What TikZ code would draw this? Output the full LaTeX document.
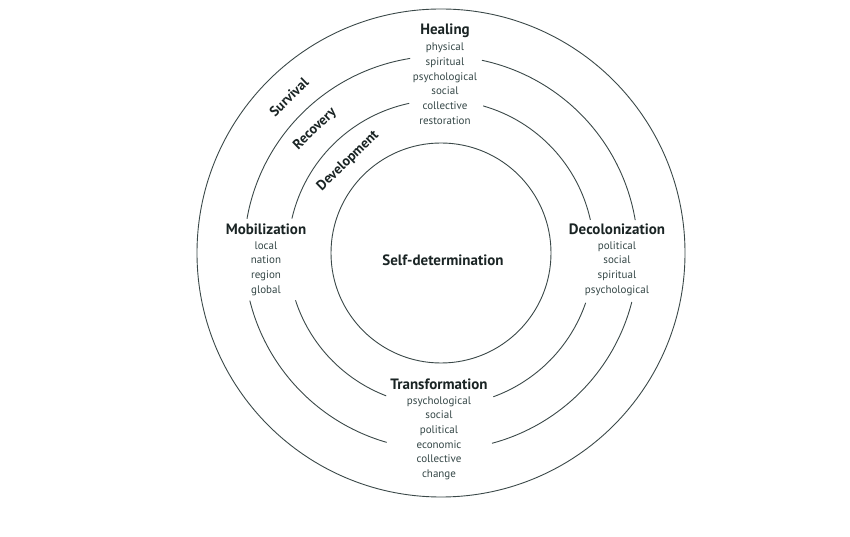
\documentclass[tikz,border=0pt]{standalone}
\usepackage{fontspec}
\setmainfont{PT Sans}
\usetikzlibrary{positioning}

\definecolor{ringgray}{HTML}{3A4848}
\definecolor{headink}{HTML}{1A2424}
\definecolor{itemink}{HTML}{344646}

\tikzset{
	head/.style = {font = \bfseries\fontsize{15}{17}\selectfont, text = headink, inner sep = 0pt},
	items/.style = {font = \fontsize{11}{14.7}\selectfont, text = itemink, align = center, inner sep = 0pt},
	stage/.style = {font = \bfseries\fontsize{14}{16}\selectfont, text = headink, inner sep = 0pt, rotate = 44},
}

\begin{document}
\begin{tikzpicture}[x = 1pt, y = 1pt, ringgray, line width = 0.9pt]
		\useasboundingbox (-441, -284) rectangle (409, 253) ;
		\draw (0, 0) circle [radius = 110] ;
		\draw (0, 0) circle [radius = 244] ;
		% recovery ring
		\draw (9.6:197) arc [start angle = 9.6, end angle = 78, radius = 197] ;
		\draw (99:197) arc [start angle = 99, end angle = 170, radius = 197] ;
		\draw (194:197) arc [start angle = 194, end angle = 254, radius = 197] ;
		\draw (285:197) arc [start angle = 285, end angle = 345.6, radius = 197] ;
		% development ring
		\draw (12.5:153) arc [start angle = 12.5, end angle = 74, radius = 153] ;
		\draw (102:153) arc [start angle = 102, end angle = 167, radius = 153] ;
		\draw (198:153) arc [start angle = 198, end angle = 249, radius = 153] ;
		\draw (290:153) arc [start angle = 290, end angle = 341, radius = 153] ;

		\node [head] (self) at (2, -7) {Self-determination} ;

		\node [head] (healing) at (4, 222) {Healing} ;
		\node [items, below = 4pt of healing] (healinglist)
			{physical\\spiritual\\psychological\\social\\collective\\restoration} ;

		\node [head] (mobil) at (-175, 24) {Mobilization} ;
		\node [items, below = 6pt of mobil] (mobillist)
			{local\\nation\\region\\global} ;

		\node [head] (decol) at (176, 24) {Decolonization} ;
		\node [items, below = 6pt of decol] (decollist)
			{political\\social\\spiritual\\psychological} ;

		\node [head] (transf) at (-2, -131) {Transformation} ;
		\node [items, below = 6pt of transf] (transflist)
			{psychological\\social\\political\\economic\\collective\\change} ;

		\node [stage] (survival) at (-152, 156) {Survival} ;
		\node [stage] (recovery) at (-126, 124) {Recovery} ;
		\node [stage] (develop) at (-93, 92) {Development} ;
	\end{tikzpicture}
\end{document}
